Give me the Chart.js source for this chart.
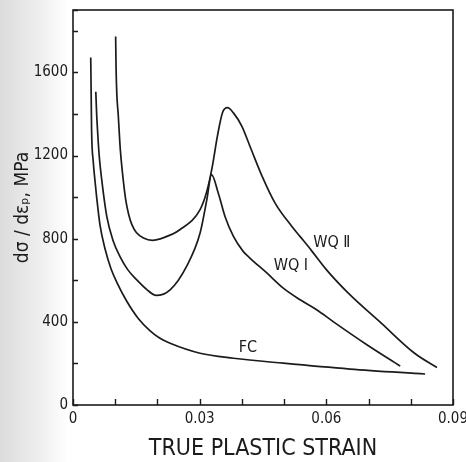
<!DOCTYPE html>
<html>
<head>
<meta charset="utf-8">
<script src="https://cdn.jsdelivr.net/npm/chart.js@4.4.1/dist/chart.umd.min.js"></script>
<style>
    html, body { margin: 0; padding: 0; }
    body { background: linear-gradient(to right, #dcdcdc 0, #ececec 35px, #fff 68px); width: 466px; height: 462px; }
    canvas { display: block; }
</style>
</head>
<body>
<canvas id="strainChart" width="466" height="462"></canvas>
<script>
// curves (strain, dσ/dεp in MPa)
const fcStrain = [0.0042, 0.0043, 0.0044, 0.0048, 0.0052, 0.0056, 0.0064, 0.0076, 0.0090, 0.0105, 0.0127, 0.0155, 0.0182, 0.0205, 0.0230, 0.0301, 0.0380, 0.0498, 0.0656, 0.0834];
const fcValue = [1671, 1500, 1325, 1170, 1080, 1000, 865, 750, 655, 585, 500, 415, 358, 322, 297, 249, 225, 201, 173, 149];

const wq1Strain = [0.0054, 0.0056, 0.0058, 0.0062, 0.0068, 0.0080, 0.0095, 0.0111, 0.0130, 0.0151, 0.0175, 0.0197, 0.0230, 0.0269, 0.0301, 0.0317, 0.0328, 0.0344, 0.0360, 0.0380, 0.0403, 0.0419, 0.0459, 0.0498, 0.0538, 0.0577, 0.0617, 0.0696, 0.0775];
const wq1Value = [1507, 1400, 1325, 1200, 1084, 907, 790, 715, 650, 602, 555, 527, 554, 667, 827, 988, 1108, 1020, 907, 811, 739, 707, 635, 562, 506, 458, 400, 290, 187];

const wq2Strain = [0.0101, 0.0102, 0.0104, 0.0107, 0.0112, 0.0117, 0.0125, 0.0132, 0.0140, 0.0150, 0.0167, 0.0188, 0.0215, 0.0253, 0.0301, 0.0317, 0.0330, 0.0342, 0.0354, 0.0366, 0.0380, 0.0400, 0.0420, 0.0448, 0.0479, 0.0518, 0.0538, 0.0564, 0.0600, 0.0652, 0.0730, 0.0809, 0.0862];
const wq2Value = [1772, 1620, 1486, 1400, 1230, 1120, 985, 915, 865, 830, 803, 792, 805, 843, 940, 1028, 1148, 1293, 1406, 1430, 1405, 1340, 1240, 1100, 970, 860, 810, 745, 651, 538, 394, 249, 180];

const curveNames = ['FC', 'WQ Ⅰ', 'WQ Ⅱ'];
// where each curve name sits, in data units
const nameStrain = [0.0414, 0.0516, 0.0613];
const nameValue = [275, 670, 781];

const xLabelValues = [0, 0.03, 0.06, 0.09];
const xLabelTexts = ['0', '0.03', '0.06', '0.09'];
const yLabelValues = [0, 400, 800, 1200, 1600];
const yLabelTexts = ['0', '400', '800', '1200', '1600'];

const ink = '#1b1b1b';
const fontFamily = "'DejaVu Sans Condensed', 'DejaVu Sans', sans-serif";

function toPoints(xs, ys) {
    return xs.map((v, i) => ({ x: v, y: ys[i] }));
}

function labelFor(value, values, texts) {
    const i = values.findIndex(v => Math.abs(v - value) < 1e-9);
    return i < 0 ? '' : texts[i];
}

// frame, inward tick marks and curve names
const frameAndTicks = {
    id: 'frameAndTicks',
    afterDraw(chart) {
        const { ctx, chartArea: a, scales: { x, y } } = chart;
        ctx.save();
        ctx.strokeStyle = ink;
        ctx.lineWidth = 1.6;
        ctx.strokeRect(a.left, a.top, a.right - a.left, a.bottom - a.top);
        ctx.lineWidth = 1.4;
        ctx.beginPath();
        x.ticks.forEach(t => {
            const px = Math.round(x.getPixelForValue(t.value)) + 0.5;
            ctx.moveTo(px, a.bottom);
            ctx.lineTo(px, a.bottom - 6);
        });
        y.ticks.forEach(t => {
            const py = Math.round(y.getPixelForValue(t.value)) + 0.5;
            ctx.moveTo(a.left, py);
            ctx.lineTo(a.left + 5, py);
        });
        ctx.stroke();

        ctx.fillStyle = ink;
        ctx.font = '16px ' + fontFamily;
        ctx.textAlign = 'center';
        ctx.textBaseline = 'middle';
        curveNames.forEach((name, i) => {
            ctx.fillText(name, x.getPixelForValue(nameStrain[i]), y.getPixelForValue(nameValue[i]));
        });
        ctx.restore();
    }
};

const lineStyle = {
    showLine: true,
    pointRadius: 0,
    borderColor: ink,
    borderWidth: 1.7,
    cubicInterpolationMode: 'monotone',
    fill: false
};

const canvas = document.getElementById('strainChart');
const strainChart = new Chart(canvas, {
    type: 'scatter',
    data: {
        datasets: [
            Object.assign({ label: curveNames[0], data: toPoints(fcStrain, fcValue) }, lineStyle),
            Object.assign({ label: curveNames[1], data: toPoints(wq1Strain, wq1Value) }, lineStyle),
            Object.assign({ label: curveNames[2], data: toPoints(wq2Strain, wq2Value) }, lineStyle)
        ]
    },
    options: {
        responsive: false,
        animation: false,
        layout: { padding: { top: 10, right: 13, left: 0, bottom: 0 } },
        plugins: {
            legend: { display: false },
            tooltip: { enabled: false }
        },
        scales: {
            x: {
                type: 'linear',
                min: 0,
                max: 0.09,
                grid: { display: false, drawTicks: false },
                border: { display: false },
                ticks: {
                    stepSize: 0.01,
                    autoSkip: false,
                    maxRotation: 0,
                    padding: 5,
                    color: ink,
                    font: { family: fontFamily, size: 15 },
                    callback: v => labelFor(v, xLabelValues, xLabelTexts)
                },
                title: {
                    display: true,
                    text: 'TRUE PLASTIC STRAIN',
                    color: ink,
                    font: { family: fontFamily, size: 23, lineHeight: 1 },
                    padding: { top: 0, bottom: 1 }
                },
                afterFit: scale => {
                    scale.height = 57;
                    scale.paddingLeft = 0;
                    scale.paddingRight = 0;
                }
            },
            y: {
                min: 0,
                max: 1900,
                grid: { display: false, drawTicks: false },
                border: { display: false },
                ticks: {
                    stepSize: 200,
                    autoSkip: false,
                    padding: 5,
                    color: ink,
                    font: { family: fontFamily, size: 15 },
                    callback: v => labelFor(v, yLabelValues, yLabelTexts)
                },
                title: {
                    display: true,
                    text: 'dσ / dεₚ, MPa',
                    color: ink,
                    font: { family: fontFamily, size: 19, lineHeight: 1 },
                    padding: { top: 14, bottom: 0 }
                },
                afterFit: scale => {
                    scale.width = 73;
                    scale.paddingTop = 0;
                    scale.paddingBottom = 0;
                }
            }
        }
    },
    plugins: [frameAndTicks]
});
</script>
</body>
</html>
